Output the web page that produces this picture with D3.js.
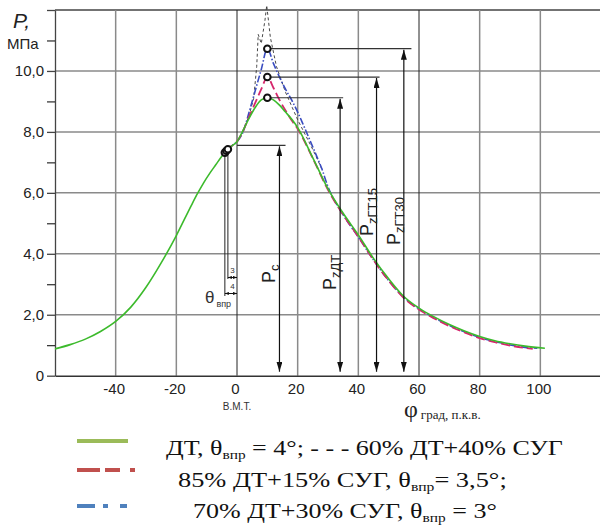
<!DOCTYPE html>
<html lang="ru">
<head>
<meta charset="UTF-8">
<script src="https://cdn.jsdelivr.net/npm/d3@7"></script>
<title>P-phi</title>
<style>
    body { margin: 0; background: #fff; }
    svg { display: block; font-family: "Liberation Sans", Arial, sans-serif; }
    .serif { font-family: "Liberation Serif", "Times New Roman", serif; }
</style>
</head>
<body>
<svg id="chart" width="600" height="528"></svg>
<script>
// pressure curves, P (MPa) vs crank angle phi (deg)
const phiDT = [-60,-55,-50,-45,-40,-35,-30,-25,-20,-15,-13,-11,-9,-7,-5,-3.5,-2,0,2,4,6,8,10,12,14,16,18,20,25,30,35,40,45,50,55,60,65,70,75,80,85,90,95,101.5];
const pDT   = [0.88,1.02,1.2,1.45,1.78,2.25,2.9,3.7,4.6,5.6,5.98,6.33,6.64,6.92,7.2,7.38,7.52,7.68,8.05,8.45,8.8,9.05,9.12,9.05,8.88,8.65,8.42,8.14,7.15,6.13,5.33,4.62,3.85,3.18,2.6,2.22,1.93,1.68,1.47,1.29,1.15,1.05,0.97,0.9];

const phiMix15 = [-3.5,-2,0,2,4,6,8,10,12,14,16,18,20,25,30,35,40,45,50,55,60,65,70,75,80,85,90,95,97.5];
const pMix15   = [7.38,7.52,7.68,8.03,8.5,8.95,9.4,9.8,9.45,9.05,8.7,8.38,8.1,7.13,6.1,5.28,4.56,3.8,3.12,2.55,2.17,1.88,1.63,1.42,1.23,1.1,0.99,0.91,0.88];

const phiMix30 = [-3,-1.5,0,2,4,6,8,10,12,14,16,18,20,22,25,28,30,35,40,45,50,55,60,65,70,75,80,85,90,95,99];
const pMix30   = [7.43,7.56,7.68,8.0,8.65,9.35,10.05,10.73,10.25,9.8,9.4,9.05,8.65,8.2,7.5,6.78,6.2,5.28,4.55,3.8,3.12,2.57,2.19,1.9,1.65,1.44,1.25,1.12,1.01,0.93,0.9];

const phiMix40 = [2,4,5.5,6.5,7,8,9.2,9.8,11,13,16,20,25,28];
const pMix40   = [8.0,8.55,9.1,10.15,11.2,10.9,11.65,12.15,11.1,10.15,9.3,8.4,7.42,6.78];

// start of injection and max pressure points (ДТ, 15%, 30%)
const injPhi  = [-4, -3.5, -3];
const injP    = [7.32, 7.38, 7.43];
const peakPhi = [10, 10, 10];
const peakP   = [9.12, 9.8, 10.73];

// pressure annotations: arrow position, level, horizontal line span
const arrowPhi  = [14, 34, 46, 55];
const arrowP    = [7.56, 9.12, 9.8, 10.73];
const lineFrom  = [0, 10, 10, 10];
const lineTo    = [16, 35, 47, 57.5];
const arrowSub  = ["c", "zДТ", "zГТ15", "zГТ30"];
const labelY    = [283, 290, 236, 245];

// axes
const xTicks   = [-40, -20, 0, 20, 40, 60, 80, 100];
const yMajor   = [0, 2, 4, 6, 8, 10, 12];
const yLabels  = ["0", "2,0", "4,0", "6,0", "8,0", "10,0", ""];
const yMinor   = [1, 3, 5, 7, 9, 11];

const svg = d3.select("#chart");

const x = d3.scaleLinear().domain([-60, 120]).range([55, 601]);
const y = d3.scaleLinear().domain([0, 12]).range([375.7, 10]);

const defs = svg.append("defs");
defs.append("marker")
    .attr("id", "arr")
    .attr("viewBox", "0 0 10 6")
    .attr("refX", 10).attr("refY", 3)
    .attr("markerWidth", 10).attr("markerHeight", 6)
    .attr("markerUnits", "userSpaceOnUse")
    .attr("orient", "auto-start-reverse")
    .append("path").attr("d", "M0,0 L10,3 L0,6 Z").attr("fill", "#111");
defs.append("marker")
    .attr("id", "arrSmall")
    .attr("viewBox", "0 0 10 8")
    .attr("refX", 10).attr("refY", 4)
    .attr("markerWidth", 4).attr("markerHeight", 4)
    .attr("markerUnits", "userSpaceOnUse")
    .attr("orient", "auto-start-reverse")
    .append("path").attr("d", "M0,0 L10,4 L0,8 Z").attr("fill", "#111");

// grid
svg.append("g").selectAll("line")
    .data(yMajor.filter(d => d > 0))
    .enter().append("line")
    .attr("x1", x(-60)).attr("x2", 601)
    .attr("y1", d => y(d)).attr("y2", d => y(d))
    .attr("stroke", d => d === 12 ? "#444" : "#8a8a8a")
    .attr("stroke-width", 1.5);

svg.append("g").selectAll("line")
    .data(xTicks)
    .enter().append("line")
    .attr("x1", d => x(d)).attr("x2", d => x(d))
    .attr("y1", y(0)).attr("y2", y(12))
    .attr("stroke", d => (d === 0 || d === 60) ? "#222" : "#8a8a8a")
    .attr("stroke-width", d => (d === 0 || d === 60) ? 1 : 1.5);

// y axis
const yAxis = svg.append("g")
    .attr("transform", `translate(${x(-60)},0)`)
    .call(d3.axisLeft(y).tickValues(yMajor).tickSize(8).tickSizeOuter(0).tickPadding(3)
        .tickFormat((d, i) => yLabels[i]));
svg.append("g")
    .attr("transform", `translate(${x(-60)},0)`)
    .call(d3.axisLeft(y).tickValues(yMinor).tickSize(8).tickSizeOuter(0).tickFormat(""))
    .select(".domain").remove();
yAxis.selectAll("text").attr("font-size", 15).attr("fill", "#222");
yAxis.selectAll("line, path").attr("stroke", "#444").attr("stroke-width", 1.3);

// x axis
const xAxis = svg.append("g")
    .attr("transform", `translate(0,${y(0)})`)
    .call(d3.axisBottom(x).tickValues(xTicks).tickSize(0).tickSizeOuter(0).tickPadding(8)
        .tickFormat(d => String(d)));
xAxis.select(".domain").attr("stroke", "#333").attr("stroke-width", 1.5);
xAxis.selectAll("text").attr("font-size", 15).attr("fill", "#222")
    .attr("font-family", "Liberation Sans, Arial, sans-serif").attr("dx", -2);

// axis titles
svg.append("text").attr("x", 13).attr("y", 28)
    .attr("font-size", 21).attr("font-style", "italic").attr("fill", "#222").text("P,");
svg.append("text").attr("x", 7).attr("y", 49)
    .attr("font-size", 15).attr("fill", "#222").text("МПа");
svg.append("text").attr("x", x(0)).attr("y", 410)
    .attr("text-anchor", "middle").attr("font-size", 10).attr("fill", "#333").text("В.М.Т.");
const phiLabel = svg.append("text").attr("class", "serif").attr("x", 404).attr("y", 417).attr("fill", "#222");
phiLabel.append("tspan").attr("font-size", 24).text("φ");
phiLabel.append("tspan").attr("font-size", 13).attr("dx", 3).attr("dy", 2).text("град, п.к.в.");

// curves
const line = (phi, p, curve) => d3.line()
    .x((d, i) => x(phi[i]))
    .y(d => y(d))
    .curve(curve)(p);

svg.append("path").attr("d", line(phiMix40, pMix40, d3.curveLinear))
    .attr("fill", "none").attr("stroke", "#333").attr("stroke-width", 0.9)
    .attr("stroke-dasharray", "3,2.5");
svg.append("path").attr("d", line(phiMix30, pMix30, d3.curveMonotoneX))
    .attr("fill", "none").attr("stroke", "#3a4cc0").attr("stroke-width", 1.6)
    .attr("stroke-dasharray", "7,2,1.5,2");
svg.append("path").attr("d", line(phiMix15, pMix15, d3.curveMonotoneX))
    .attr("fill", "none").attr("stroke", "#d6276c").attr("stroke-width", 1.8)
    .attr("stroke-dasharray", "9,4");
svg.append("path").attr("d", line(phiDT, pDT, d3.curveMonotoneX))
    .attr("fill", "none").attr("stroke", "#3cba2c").attr("stroke-width", 1.6);

// theta annotation
svg.append("line").attr("x1", x(-4)).attr("x2", x(-4)).attr("y1", y(7.32)).attr("y2", 296)
    .attr("stroke", "#222").attr("stroke-width", 1);
svg.append("line").attr("x1", x(-3)).attr("x2", x(-3)).attr("y1", y(7.43)).attr("y2", 279)
    .attr("stroke", "#222").attr("stroke-width", 1);
svg.append("line").attr("x1", x(-3)).attr("x2", x(0)).attr("y1", 277.5).attr("y2", 277.5)
    .attr("stroke", "#111").attr("stroke-width", 1)
    .attr("marker-start", "url(#arrSmall)").attr("marker-end", "url(#arrSmall)");
svg.append("line").attr("x1", x(-4)).attr("x2", x(0)).attr("y1", 293.5).attr("y2", 293.5)
    .attr("stroke", "#111").attr("stroke-width", 1)
    .attr("marker-start", "url(#arrSmall)").attr("marker-end", "url(#arrSmall)");
svg.append("text").attr("x", x(-1.5)).attr("y", 273).attr("text-anchor", "middle")
    .attr("font-size", 8).attr("fill", "#333").text("3");
svg.append("text").attr("x", x(-1.5)).attr("y", 289).attr("text-anchor", "middle")
    .attr("font-size", 8).attr("fill", "#333").text("4");
const theta = svg.append("text").attr("x", 205).attr("y", 303).attr("fill", "#333");
theta.append("tspan").attr("font-size", 17).text("θ");
theta.append("tspan").attr("font-size", 9).attr("dx", 2).attr("dy", 4).text("впр");

// pressure arrows
arrowPhi.forEach((a, i) => {
    svg.append("line")
        .attr("x1", x(lineFrom[i])).attr("x2", x(lineTo[i]))
        .attr("y1", y(arrowP[i])).attr("y2", y(arrowP[i]))
        .attr("stroke", "#333").attr("stroke-width", 1.2);
    svg.append("line")
        .attr("x1", x(a)).attr("x2", x(a))
        .attr("y1", y(arrowP[i]) + 1).attr("y2", y(0) - 4)
        .attr("stroke", "#111").attr("stroke-width", 1.2)
        .attr("marker-start", "url(#arr)").attr("marker-end", "url(#arr)");
    const lx = x(a) - 4;
    const t = svg.append("text")
        .attr("transform", `translate(${lx},${labelY[i]}) rotate(-90)`)
        .attr("fill", "#222");
    t.append("tspan").attr("font-size", 18).text("P");
    t.append("tspan").attr("font-size", 13).attr("dy", 4).text(arrowSub[i]);
});

// markers
svg.append("g").selectAll("circle")
    .data(injPhi.map((d, i) => [d, injP[i]]).concat(peakPhi.map((d, i) => [d, peakP[i]])))
    .enter().append("circle")
    .attr("cx", d => x(d[0])).attr("cy", d => y(d[1])).attr("r", 3.3)
    .attr("fill", "#fff").attr("stroke", "#111").attr("stroke-width", 2);

// legend
const lg = svg.append("g");
lg.append("line").attr("x1", 77).attr("x2", 128).attr("y1", 441).attr("y2", 441)
    .attr("stroke", "#9bbb59").attr("stroke-width", 4);
lg.append("line").attr("x1", 77).attr("x2", 135).attr("y1", 470).attr("y2", 470)
    .attr("stroke", "#c0504d").attr("stroke-width", 4).attr("stroke-dasharray", "23,5,15,10,5");
lg.append("line").attr("x1", 77).attr("x2", 127).attr("y1", 506).attr("y2", 506)
    .attr("stroke", "#4f81bd").attr("stroke-width", 4).attr("stroke-dasharray", "18,8,5,12,7");

const legendRows = [
    {x: 166, x2: 563, y: 455, pre: "ДТ, θ", post: " = 4°; - - - 60% ДТ+40% СУГ"},
    {x: 178, x2: 507, y: 487, pre: "85% ДТ+15% СУГ, θ", post: "= 3,5°;"},
    {x: 193, x2: 497, y: 518, pre: "70% ДТ+30% СУГ, θ", post: " = 3°"}
];
legendRows.forEach(r => {
    const t = lg.append("text").attr("class", "serif").attr("x", r.x).attr("y", r.y)
        .attr("font-size", 22).attr("fill", "#111");
    t.append("tspan").text(r.pre);
    t.append("tspan").attr("font-size", 13).attr("dy", 4).text("впр");
    t.append("tspan").attr("dy", -4).text(r.post);
    // stretch each row horizontally to the width it has in the figure
    const w = t.node().getComputedTextLength();
    const sx = (r.x2 - r.x) / w;
    t.attr("transform", `translate(${r.x},0) scale(${sx},1) translate(${-r.x},0)`);
});
</script>
</body>
</html>
